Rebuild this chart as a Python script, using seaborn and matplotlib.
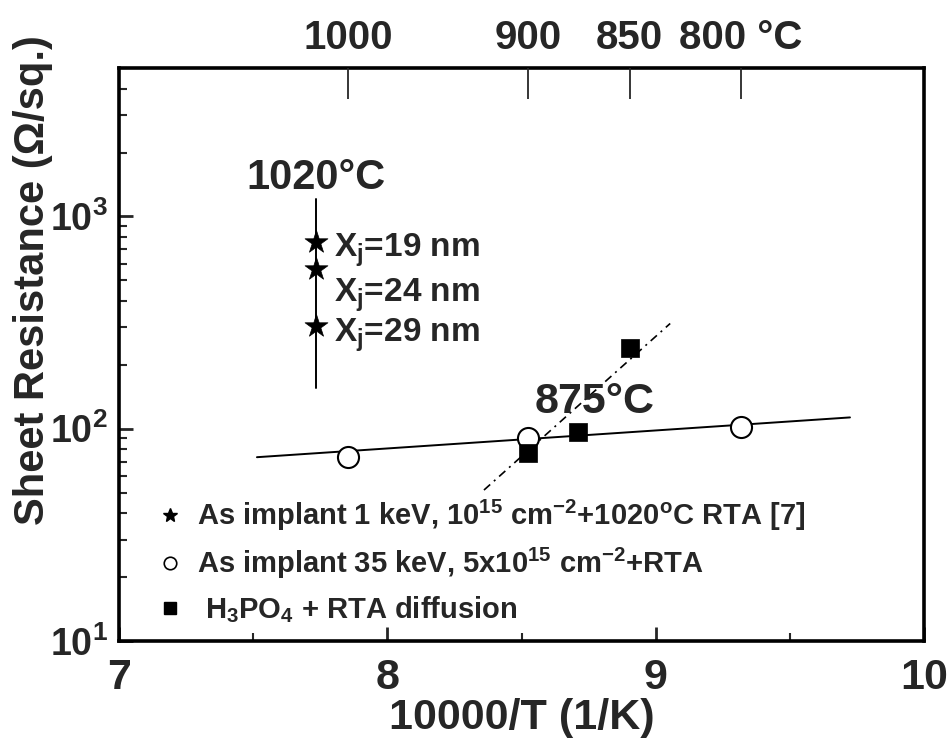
import numpy as np
import pandas as pd
import matplotlib
matplotlib.use("Agg")
import matplotlib.pyplot as plt
import seaborn as sns
from matplotlib.lines import Line2D
from matplotlib.ticker import FixedLocator, NullFormatter, LogLocator, NullLocator

# ---- data -------------------------------------------------------------
star_temp_C = [1020, 1020, 1020]
star_xj_nm = [19, 24, 29]
star_rs = [757, 564, 303]
star_span_rs = [155, 1203]

circle_temp_C = [1000, 900, 800]
circle_rs = [73.6, 90.2, 101.6]

square_temp_C = [900, 875, 850]
square_rs = [76.7, 96.3, 239]

circle_fit_x = [7.514, 9.724]
circle_fit_rs = [73.4, 113]
square_fit_x = [8.360, 9.054]
square_fit_rs = [51.4, 313]

x_ticks = [7, 8, 9, 10]
y_ticks = [10, 100, 1000]
top_temps_C = [1000, 900, 850, 800]
top_labels = ["1000", "900", "850", "800 °C"]


def inv_t(temp_c):
    return 1e4 / (np.asarray(temp_c, dtype=float) + 273.15)


# ---- style ------------------------------------------------------------
sns.set_style("ticks")
plt.rcParams["font.family"] = ["Liberation Sans", "DejaVu Sans"]
plt.rcParams["font.weight"] = "bold"
plt.rcParams["mathtext.default"] = "regular"

fig = plt.figure(figsize=(9.53, 7.46), dpi=100)
ax = fig.add_axes([0.1249, 0.1408, 0.8447, 0.768])

stars = pd.DataFrame({"x": inv_t(star_temp_C), "rs": star_rs})
circles = pd.DataFrame({"x": inv_t(circle_temp_C), "rs": circle_rs})
squares = pd.DataFrame({"x": inv_t(square_temp_C), "rs": square_rs})
circle_fit = pd.DataFrame({"x": circle_fit_x, "rs": circle_fit_rs})
square_fit = pd.DataFrame({"x": square_fit_x, "rs": square_fit_rs})
star_span = pd.DataFrame({"x": inv_t([1020, 1020]), "rs": star_span_rs})

# guide lines
sns.lineplot(data=circle_fit, x="x", y="rs", ax=ax, color="black", lw=1.4,
             sort=False, estimator=None)
sns.lineplot(data=square_fit, x="x", y="rs", ax=ax, color="black", lw=1.2,
             linestyle=(0, (5, 3, 1.2, 3)), sort=False, estimator=None)
sns.lineplot(data=star_span, x="x", y="rs", ax=ax, color="black", lw=1.4,
             sort=False, estimator=None, orient="y")

# measured points
sns.scatterplot(data=stars, x="x", y="rs", ax=ax, marker="*", s=300,
                color="black", edgecolor="black", linewidth=0.5, zorder=5)
sns.scatterplot(data=circles, x="x", y="rs", ax=ax, marker="o", s=230,
                facecolor="white", edgecolor="black", linewidth=1.5, zorder=5)
sns.scatterplot(data=squares, x="x", y="rs", ax=ax, marker="s", s=170,
                color="black", edgecolor="black", linewidth=0.5, zorder=6)

ax.set_yscale("log")
ax.set_xlim(7, 10)
ax.set_ylim(10, 5000)

# axes frame and ticks
for sp in ax.spines.values():
    sp.set_linewidth(2.6)
    sp.set_color("black")
ax.xaxis.set_major_locator(FixedLocator(x_ticks))
ax.xaxis.set_minor_locator(FixedLocator([7.5, 8.5, 9.5]))
ax.set_xticklabels([str(v) for v in x_ticks])
ax.yaxis.set_major_locator(FixedLocator(y_ticks))
ax.yaxis.set_minor_locator(LogLocator(base=10, subs=np.arange(2, 10)))
ax.yaxis.set_minor_formatter(NullFormatter())
ax.set_yticklabels([r"$\mathregular{10^{%d}}$" % int(np.log10(v)) for v in y_ticks])
ax.tick_params(axis="both", which="major", direction="in", length=10, width=2,
               top=False, right=False)
ax.tick_params(axis="x", which="major", pad=12, labelsize=31)
ax.tick_params(axis="y", which="major", pad=8, labelsize=27)
ax.tick_params(axis="both", which="minor", direction="in", length=6, width=1.5,
               top=False, right=False)

ax.set_xlabel("10000/T (1/K)", fontsize=31, fontweight="bold", labelpad=0)
ax.set_ylabel("Sheet Resistance (Ω/sq.)", fontsize=30, fontweight="bold")
ax.yaxis.set_label_coords(-0.082, 0.63)

# temperature scale along the top
top = ax.twiny()
top.set_xlim(ax.get_xlim())
top.xaxis.set_major_locator(FixedLocator(inv_t(top_temps_C)))
top.xaxis.set_minor_locator(NullLocator())
top.set_xticklabels(top_labels)
top.tick_params(axis="x", direction="in", length=22, width=1.3, labelsize=29, pad=8)
for sp in top.spines.values():
    sp.set_visible(False)

# annotations
ax.text(inv_t(1020), 1510, "1020°C", fontsize=30, fontweight="bold",
        ha="center", va="center")
for rs, xj in zip([692, 425, 275], star_xj_nm):
    ax.text(7.80, rs, r"$\mathregular{X_j}$=%d nm" % xj, fontsize=24,
            fontweight="bold", ha="left", va="center")
ax.text(8.774, 133, "875°C", fontsize=31, fontweight="bold",
        ha="center", va="center")

# legend
handles = [
    Line2D([], [], marker="*", ls="none", color="black", markersize=10),
    Line2D([], [], marker="o", ls="none", markerfacecolor="white",
           markeredgecolor="black", markersize=9, markeredgewidth=1.2),
    Line2D([], [], marker="s", ls="none", color="black", markersize=8),
]
labels = [
    r"As implant 1 keV, $\mathregular{10^{15}}$ cm$\mathregular{^{-2}}$+1020$\mathregular{^{o}}$C RTA [7]",
    r"As implant 35 keV, 5x$\mathregular{10^{15}}$ cm$\mathregular{^{-2}}$+RTA",
    r" H$\mathregular{_3}$PO$\mathregular{_4}$ + RTA diffusion",
]
ax.legend(handles, labels, loc="lower left", bbox_to_anchor=(0.013, -0.018),
          frameon=False, handlelength=1.0, handletextpad=0.4, labelspacing=0.45,
          prop={"family": ["Liberation Sans", "DejaVu Sans"], "weight": "bold",
                "size": 21})

fig.savefig("out.png", dpi=100)
